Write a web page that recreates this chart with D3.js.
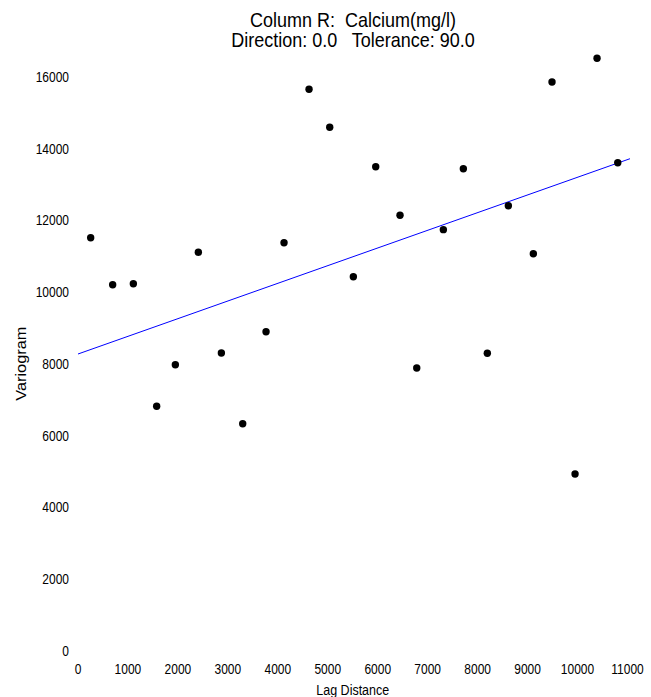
<!DOCTYPE html>
<html>
<head>
<meta charset="utf-8">
<script src="https://cdn.jsdelivr.net/npm/d3@7"></script>
<style>
  html, body { margin: 0; padding: 0; background: #fff; }
  svg text { font-family: "Liberation Sans", Arial, sans-serif; fill: #000; white-space: pre; }
</style>
</head>
<body>
<svg id="chart" width="651" height="697"></svg>
<script>
const titleLines = ["Column R:  Calcium(mg/l)", "Direction: 0.0   Tolerance: 90.0"];
const xLabel = "Lag Distance";
const yLabel = "Variogram";

const lagDistance = [254, 694, 1108, 1575, 1949, 2409, 2870, 3297, 3764, 4124, 4625, 5039, 5512,
                     5960, 6446, 6781, 7314, 7714, 8194, 8615, 9115, 9489, 9950, 10390, 10805];
const variogram = [11510, 10202, 10230, 6812, 7972, 11105, 8298, 6328, 8892, 11373, 15649, 14590, 10425,
                   13491, 12136, 7880, 11736, 13436, 8290, 12404, 11066, 15852, 4925, 16513, 13603];

const modelX = [0, 11050];
const modelY = [8270, 13714];

const xTicks = [0, 1000, 2000, 3000, 4000, 5000, 6000, 7000, 8000, 9000, 10000, 11000];
const yTicks = [0, 2000, 4000, 6000, 8000, 10000, 12000, 14000, 16000];

const SY = 1.167; // vertical stretch of text in the reference

const svg = d3.select("#chart");
const x = d3.scaleLinear().domain([0, 11000]).range([78, 627.5]);
const y = d3.scaleLinear().domain([0, 16000]).range([650.7, 76.7]);

function label(g, px, py, txt, size, anchor, rotate) {
  const t = g.append("text")
    .attr("transform", `translate(${px},${py}) scale(1,${SY})` + (rotate ? ` rotate(${rotate})` : ""))
    .attr("text-anchor", anchor)
    .attr("dy", "0.36em")
    .style("font-size", size + "px")
    .text(txt);
  return t;
}

// Title
const tg = svg.append("g");
label(tg, 353, 19.5, titleLines[0], 18, "middle");
label(tg, 353, 39.5, titleLines[1], 18, "middle");

// Y tick labels
const yg = svg.append("g");
yTicks.forEach(v => label(yg, 69, y(v), String(v), 12, "end"));
// X tick labels
const xg = svg.append("g");
xTicks.forEach(v => label(xg, x(v), 669, String(v), 12, "middle"));

// Axis titles
label(svg, x(5500), 689.5, xLabel, 12.5, "middle");
label(svg, 21, y(8000), yLabel, 14, "middle", -90);

// Model line
const line = d3.line().x((d, i) => x(d)).y((d, i) => y(modelY[i]));
svg.append("path")
  .attr("d", line(modelX))
  .attr("fill", "none")
  .attr("stroke", "#0000ff")
  .attr("stroke-width", 1);

// Points
svg.append("g").selectAll("circle")
  .data(lagDistance)
  .join("circle")
  .attr("cx", d => x(d))
  .attr("cy", (d, i) => y(variogram[i]))
  .attr("r", 3.7)
  .attr("fill", "#000");
</script>
</body>
</html>
